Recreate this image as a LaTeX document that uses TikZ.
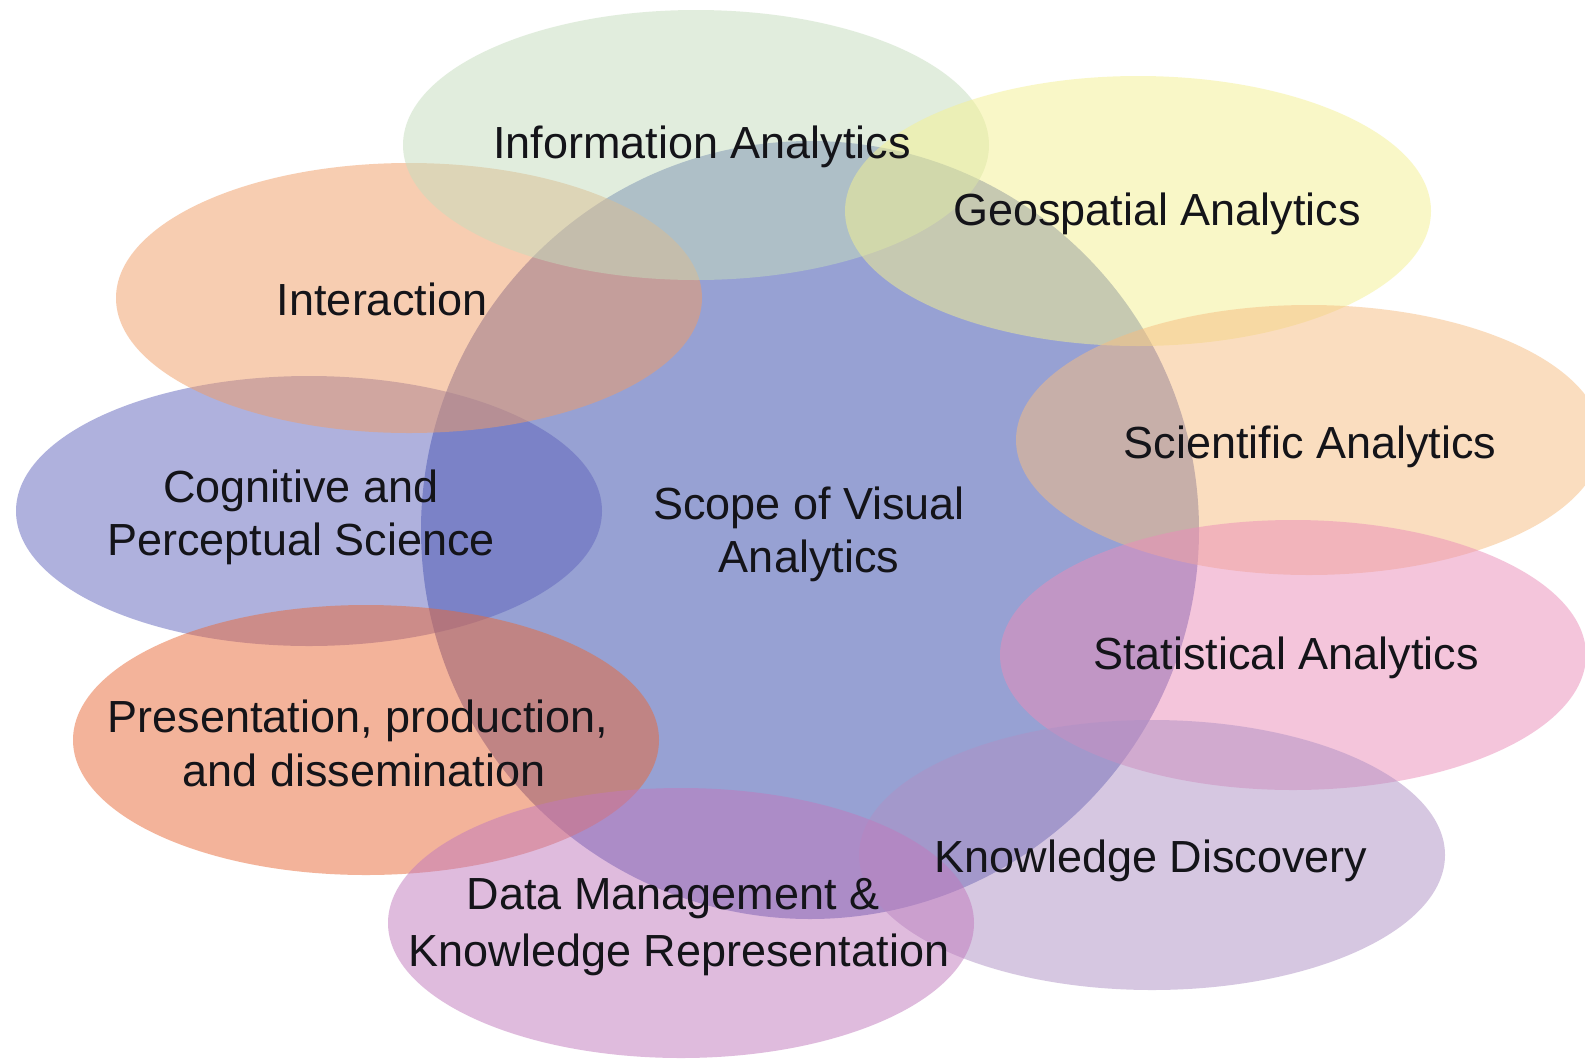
\documentclass[tikz,border=0pt]{standalone}
\usepackage{fontspec}
\setmainfont{Liberation Sans}
\usetikzlibrary{shapes.geometric}
\definecolor{cCircle}{RGB}{151,161,211}
\definecolor{cInfo}{RGB}{197,221,189}
\definecolor{cGeo}{RGB}{245,241,145}
\definecolor{cInter}{RGB}{241,157,101}
\definecolor{cSci}{RGB}{247,189,129}
\definecolor{cCog}{RGB}{97,101,189}
\definecolor{cStat}{RGB}{235,141,185}
\definecolor{cPres}{RGB}{233,105,55}
\definecolor{cKD}{RGB}{175,145,197}
\definecolor{cDM}{RGB}{193,121,189}
\definecolor{cText}{RGB}{20,20,25}
\tikzset{
  blob/.style={ellipse, inner sep=0pt, minimum width=586pt, minimum height=270pt, fill=#1, fill opacity=0.5, draw=none},
  lbl/.style={anchor=base, inner sep=0pt, text=cText, font=\fontsize{45}{54}\selectfont}
}
\begin{document}
\begin{tikzpicture}[x=1pt,y=-1pt]
\useasboundingbox (0,0) rectangle (1585,1058);
\fill[white] (0,0) rectangle (1585,1058);
% central scope circle
\node[circle, inner sep=0pt, minimum size=778pt, fill=cCircle, draw=none] (scope) at (810,530) {};
% surrounding fields
\node[blob=cCog]   (cog)   at (309,511) {};
\node[blob=cInter] (inter) at (409,298) {};
\node[blob=cInfo]  (info)  at (696,145) {};
\node[blob=cGeo]   (geo)   at (1138,211) {};
\node[blob=cSci]   (sci)   at (1309,440) {};
\node[blob=cStat]  (stat)  at (1293,655) {};
\node[blob=cPres]  (pres)  at (366,740) {};
\node[blob=cKD]    (kd)    at (1152,855) {};
\node[blob=cDM]    (dm)    at (681,923) {};
% labels
\node[lbl] (tinfo)  at (702,158) {Information Analytics};
\node[lbl] (tgeo)   at (1157,225) {Geospatial Analytics};
\node[lbl] (tinter) at (382,315) {Interaction};
\node[lbl] (tsci)   at (1310,458) {Scientific Analytics};
\node[lbl] (tcogA)  at (301,502) {Cognitive and};
\node[lbl] (tcogB)  at (301,555) {Perceptual Science};
\node[lbl] (tscA)   at (809,519) {Scope of Visual};
\node[lbl] (tscB)   at (809,572) {Analytics};
\node[lbl] (tstat)  at (1286,669) {Statistical Analytics};
\node[lbl] (tpresA) at (358,732) {Presentation, production,};
\node[lbl] (tpresB) at (364,786) {and dissemination};
\node[lbl] (tkd)    at (1151,872) {Knowledge Discovery};
\node[lbl] (tdmA)   at (673,909) {Data Management \&};
\node[lbl] (tdmB)   at (679,966) {Knowledge Representation};
\end{tikzpicture}
\end{document}
